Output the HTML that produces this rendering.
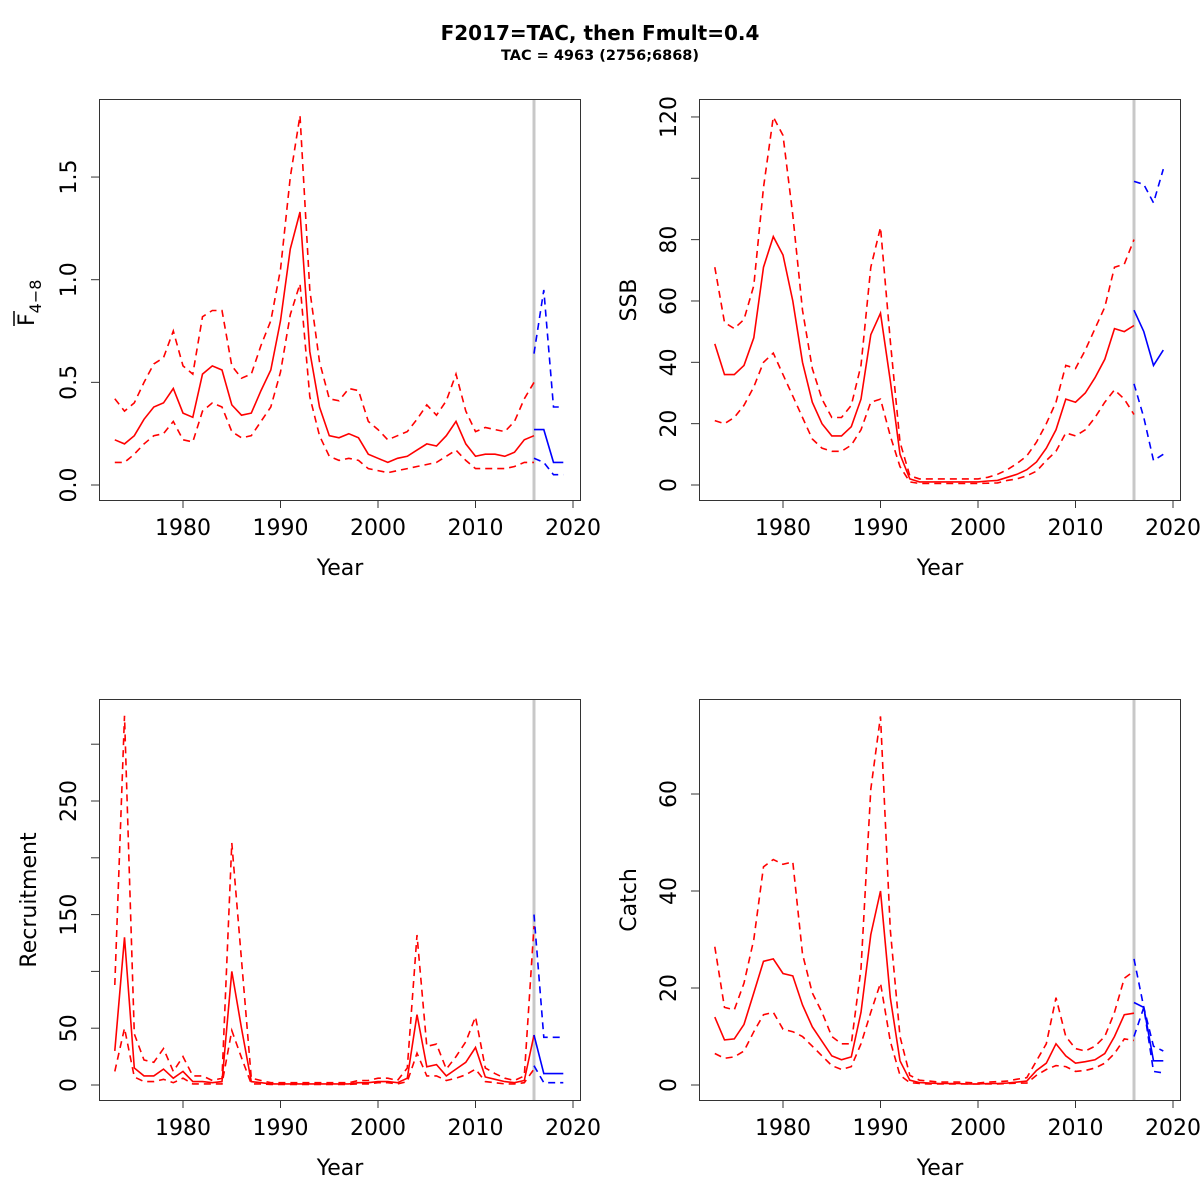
<!DOCTYPE html>
<html><head><meta charset="utf-8"><style>body{margin:0;background:#fff}svg{display:block}</style></head>
<body><svg id="s" width="1200" height="1200" xmlns="http://www.w3.org/2000/svg" font-family="DejaVu Sans, Liberation Sans, sans-serif"></svg>
<script>
const Y0=1973;
const P=[
{ox:0,oy:0,y0:485,s:205.3,ticks:[0,0.5,1,1.5],lab:['0.0','0.5','1.0','1.5'],name:'F',
m:[0.22,0.20,0.24,0.32,0.38,0.40,0.47,0.35,0.33,0.54,0.58,0.56,0.39,0.34,0.35,0.46,0.56,0.80,1.15,1.33,0.65,0.38,0.24,0.23,0.25,0.23,0.15,0.13,0.11,0.13,0.14,0.17,0.20,0.19,0.24,0.31,0.20,0.14,0.15,0.15,0.14,0.16,0.22,0.24],
u:[0.42,0.36,0.40,0.50,0.59,0.62,0.75,0.58,0.54,0.82,0.85,0.85,0.58,0.52,0.54,0.68,0.80,1.05,1.50,1.80,0.95,0.60,0.42,0.41,0.47,0.46,0.31,0.27,0.22,0.24,0.26,0.32,0.39,0.34,0.41,0.54,0.36,0.26,0.28,0.27,0.26,0.31,0.42,0.50],
l:[0.11,0.11,0.15,0.20,0.24,0.25,0.31,0.22,0.21,0.36,0.40,0.38,0.26,0.23,0.24,0.31,0.38,0.55,0.83,0.98,0.43,0.24,0.14,0.12,0.13,0.12,0.08,0.07,0.06,0.07,0.08,0.09,0.10,0.11,0.14,0.17,0.12,0.08,0.08,0.08,0.08,0.09,0.11,0.11],
bm:[0.27,0.27,0.11,0.11],bu:[0.64,0.95,0.38,0.38],bl:[0.13,0.11,0.05,0.05]},
{ox:600,oy:0,y0:485,s:3.067,ticks:[0,20,40,60,80,100,120],lab:['0','20','40','60','80','','120'],name:'SSB',
m:[46,36,36,39,48,71,81,75,60,40,27,20,16,16,19,28,49,56,34,10,2,1,1,1,1,1,1,1,1.3,1.5,2.5,3.5,5,7.5,12,18,28,27,30,35,41,51,50,52],
u:[71,53,51,54,65,97,120,114,88,57,38,28,22,22,26,39,71,84,47,14,3,2,2,2,2,2,2,2,2.5,3.5,5,7,9.5,14,20,27,39,38,44,51,58,71,72,80],
l:[21,20,22,26,32,40,43,36,29,22,15,12,11,11,13,18,27,28,16,6,1,0.5,0.5,0.5,0.5,0.5,0.5,0.5,0.6,0.7,1.5,2,3,4.5,8,11,17,16,18,22,27,31,28,23],
bm:[57,50,39,44],bu:[99,98,92,103],bl:[33,22,8,10]},
{ox:0,oy:600,y0:485,s:1.136,ticks:[0,50,100,150,200,250,300],lab:['0','50','','150','','250',''],name:'Recruitment',
m:[30,130,15,8,8,14,6,12,3,3,2,3,100,50,3,2,1,1,1,1,1,1,1,1,1,2,2,3,3,2,6,62,16,18,8,14,20,33,7,5,3,2,4,44],
u:[88,325,45,22,20,32,12,25,8,8,4,6,213,110,6,4,2,2,2,2,2,2,2,2,2,4,4,6,6,4,15,132,34,36,14,25,38,60,15,10,6,4,8,140],
l:[12,50,7,3,3,5,2,6,1,1,1,1,48,24,1,1,0.5,0.5,0.5,0.5,0.5,0.5,0.5,0.5,0.5,1,1,2,2,1,3,28,8,8,4,6,9,14,3,2,1,1,2,14],
bm:[44,10,10,10],bu:[150,42,42,42],bl:[17,2,2,2]},
{ox:600,oy:600,y0:485,s:4.85,ticks:[0,20,40,60],lab:['0','20','40','60'],name:'Catch',
m:[14,9.3,9.5,12.5,19,25.5,26,23,22.5,16.5,12,9,6,5.2,5.8,15,31,40,18,5,1,0.5,0.4,0.3,0.3,0.3,0.2,0.2,0.3,0.3,0.4,0.6,0.8,3,4.5,8.5,6,4.5,4.8,5.2,6.5,10,14.5,14.8],
u:[28.5,16,15.5,21,30,45,46.5,45.5,46,27,19,15,10,8.5,8.5,24,61,76,32,10,2,1,0.8,0.6,0.6,0.6,0.5,0.4,0.6,0.7,0.8,1.2,1.5,5,8.5,18,10,7.5,7,8,10,15,22,23.5],
l:[6.5,5.5,5.8,7,11,14.5,15,11.5,11,10,8,6,4,3.2,3.8,8.5,15,21,9,2,0.5,0.3,0.2,0.2,0.2,0.2,0.2,0.2,0.2,0.2,0.3,0.4,0.4,2,3.2,4,3.8,2.8,3,3.5,4.5,6.5,9.5,9.2],
bm:[17,16,5,5],bu:[26,16,8,7],bl:[10,16,2.8,2.5]}];
let h='<text x="600" y="40" text-anchor="middle" font-size="20" font-weight="bold">F2017=TAC, then Fmult=0.4</text><text x="600" y="60" text-anchor="middle" font-size="14.5" font-weight="bold">TAC = 4963 (2756;6868)</text>';
for(const p of P){
 const X=y=>p.ox+183+(y-1980)*9.75, Y=v=>p.oy+p.y0-v*p.s;
 const pl=(a,st,c,da)=>'<polyline fill="none" stroke="'+c+'" stroke-width="1.6" '+(da?'stroke-dasharray="7,5" ':'')+'points="'+a.map((v,i)=>X(st+i).toFixed(1)+','+Y(v).toFixed(1)).join(' ')+'"/>';
 h+='<rect x="'+(p.ox+99.5)+'" y="'+(p.oy+99.5)+'" width="481" height="401" fill="none" stroke="#333" stroke-width="1"/>';
 h+='<line x1="'+X(2016)+'" x2="'+X(2016)+'" y1="'+(p.oy+100)+'" y2="'+(p.oy+500)+'" stroke="#c8c8c8" stroke-width="3"/>';
 h+=pl(p.m,Y0,'red',0)+pl(p.u,Y0,'red',1)+pl(p.l,Y0,'red',1);
 h+=pl(p.bm,2016,'blue',0)+pl(p.bu,2016,'blue',1)+pl(p.bl,2016,'blue',1);
 for(const yr of [1980,1990,2000,2010,2020]){const x=X(yr);
  h+='<line x1="'+x+'" x2="'+x+'" y1="'+(p.oy+500)+'" y2="'+(p.oy+508)+'" stroke="#333"/>';
  h+='<text x="'+x+'" y="'+(p.oy+535)+'" text-anchor="middle" font-size="22">'+yr+'</text>';}
 p.ticks.forEach((t,i)=>{const y=Y(t);
  h+='<line x1="'+(p.ox+91)+'" x2="'+(p.ox+99)+'" y1="'+y+'" y2="'+y+'" stroke="#333"/>';
  if(p.lab[i])h+='<text transform="translate('+(p.ox+76)+','+y+') rotate(-90)" text-anchor="middle" font-size="22">'+p.lab[i]+'</text>';});
 h+='<text x="'+(p.ox+340)+'" y="'+(p.oy+575)+'" text-anchor="middle" font-size="22">Year</text>';
 const cy=p.oy+300;
 if(p.name=='F'){
  h+='<g transform="translate(34,'+cy+') rotate(-90)"><text x="-26" y="0" font-size="22">F<tspan font-size="16" dy="7">4−8</tspan></text><line x1="-26" x2="-11" y1="-20" y2="-20" stroke="#000" stroke-width="1.5"/></g>';
 } else h+='<text transform="translate('+(p.ox+36)+','+cy+') rotate(-90)" text-anchor="middle" font-size="22">'+p.name+'</text>';
}
document.getElementById('s').innerHTML=h;
</script></body></html>
